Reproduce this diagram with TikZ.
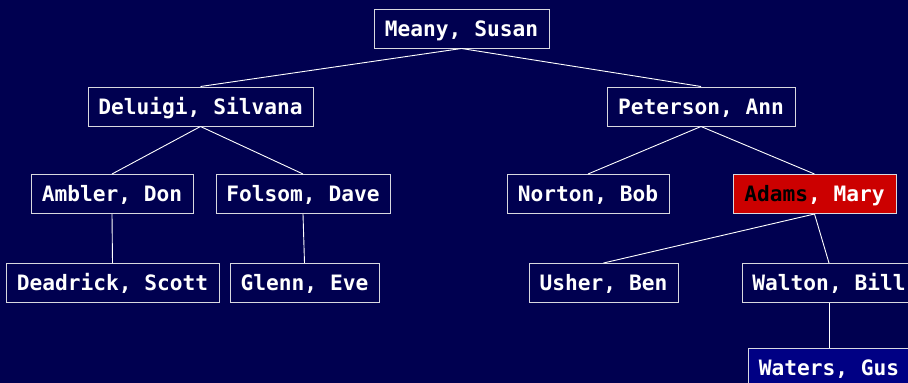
\documentclass[tikz,border=0pt]{standalone}
\usepackage{fontspec}
\newfontfamily\treefont{DejaVu Sans Mono}
\definecolor{navybg}{HTML}{000050}
\definecolor{leafblue}{HTML}{000084}
\definecolor{hotred}{HTML}{CC0000}
\definecolor{edgegray}{HTML}{D8D8E0}
\begin{document}
\begin{tikzpicture}[x=1pt,y=-1pt,
  person/.style={draw=edgegray, line width=1pt, fill=navybg, text=white,
    font=\treefont\bfseries\fontsize{21.2}{25}\selectfont,
    inner sep=0pt, minimum height=39pt, text height=15.4pt, text depth=0pt,
    align=center},
  link/.style={draw=white, line width=0.9pt}]
  % page and background
  \fill[navybg] (0,0) rectangle (908,383);
  \useasboundingbox (0,0) rectangle (908,383);
  \clip (0,0) rectangle (908,383);

  % level 0
  \node[person, minimum width=175pt] (meany) at (461.5,28.5) {Meany, Susan};
  % level 1
  \node[person, minimum width=225pt] (deluigi) at (200.5,106.5) {Deluigi, Silvana};
  \node[person, minimum width=188pt] (peterson) at (701,106.5) {Peterson, Ann};
  % level 2
  \node[person, minimum width=162pt] (ambler) at (112,194) {Ambler, Don};
  \node[person, minimum width=174pt] (folsom) at (303,194) {Folsom, Dave};
  \node[person, minimum width=162pt] (norton) at (588,194) {Norton, Bob};
  \node[person, minimum width=163pt, fill=hotred] (adams) at (814.5,194)
    {{\color{black}Adams}, Mary};
  % level 3
  \node[person, minimum width=213pt] (deadrick) at (112.5,283) {Deadrick, Scott};
  \node[person, minimum width=149pt] (glenn) at (304.5,283) {Glenn, Eve};
  \node[person, minimum width=149pt] (usher) at (603.5,283) {Usher, Ben};
  \node[person, minimum width=174pt] (walton) at (829,283) {Walton, Bill};
  % level 4
  \node[person, minimum width=162pt, fill=leafblue] (waters) at (829,367.5) {Waters, Gus};

  % connectors
  \draw[link] (meany.south) -- (deluigi.north);
  \draw[link] (meany.south) -- (peterson.north);
  \draw[link] (deluigi.south) -- (ambler.north);
  \draw[link] (deluigi.south) -- (folsom.north);
  \draw[link] (peterson.south) -- (norton.north);
  \draw[link] (peterson.south) -- (adams.north);
  \draw[link] (ambler.south) -- (deadrick.north);
  \draw[link] (folsom.south) -- (glenn.north);
  \draw[link] (adams.south) -- (usher.north);
  \draw[link] (adams.south) -- (walton.north);
  \draw[link] (walton.south) -- (waters.north);
\end{tikzpicture}
\end{document}
